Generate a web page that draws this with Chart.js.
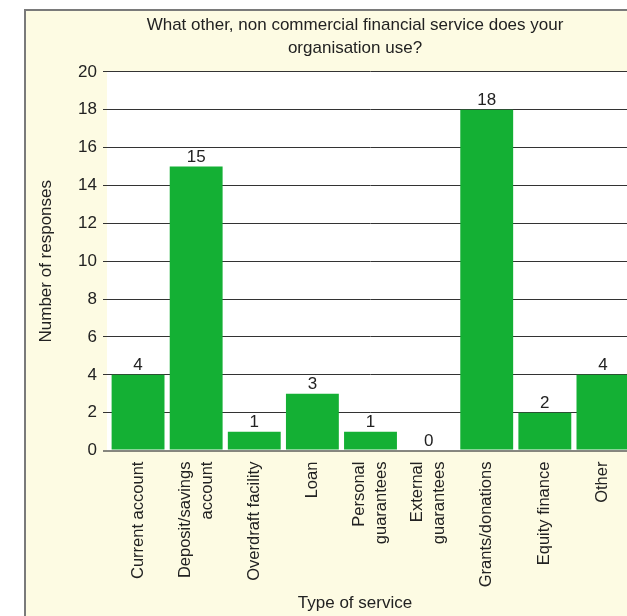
<!DOCTYPE html>
<html>
<head>
<meta charset="utf-8">
<script src="https://cdn.jsdelivr.net/npm/chart.js@4"></script>
<style>
  body { margin: 0; background: #fff; overflow: hidden; }
  #frame {
    position: absolute; left: 24px; top: 9px;
    width: 658px; height: 605px;
    border-left: 2px solid #7a7a7a; border-top: 2px solid #7a7a7a;
    background: #fdfbe3;
  }
</style>
</head>
<body>
<div id="frame"><canvas id="serviceChart"></canvas></div>
<script>
var categories = [
    "Current account",
    ["Deposit/savings", "account"],
    "Overdraft facility",
    "Loan",
    ["Personal", "guarantees"],
    ["External", "guarantees"],
    "Grants/donations",
    "Equity finance",
    "Other"
];
var responses = [4, 15, 1, 3, 1, 0, 18, 2, 4];
var yTicks = [0, 2, 4, 6, 8, 10, 12, 14, 16, 18, 20];

var textColor = "#222";
var fontFamily = "'Liberation Sans', Arial, sans-serif";
Chart.defaults.font.family = fontFamily;
Chart.defaults.font.size = 17;
Chart.defaults.color = textColor;

// white plot area, a bit wider on the left like the original
var plotBackground = {
    id: "plotBackground",
    beforeDraw: function (chart) {
        var a = chart.chartArea, ctx = chart.ctx;
        ctx.save();
        ctx.fillStyle = "#ffffff";
        ctx.fillRect(a.left - 2, a.top, a.right - a.left + 2, a.bottom - a.top);
        ctx.restore();
    }
};

// value above each bar
var barValues = {
    id: "barValues",
    afterDatasetsDraw: function (chart) {
        var ctx = chart.ctx;
        var meta = chart.getDatasetMeta(0);
        ctx.save();
        ctx.font = "17px " + fontFamily;
        ctx.fillStyle = textColor;
        ctx.textAlign = "center";
        ctx.textBaseline = "alphabetic";
        meta.data.forEach(function (bar, i) {
            ctx.fillText(String(responses[i]), bar.x, bar.y - 5);
        });
        ctx.restore();
    }
};

// rotated category labels, multi-line ones centred on the bar
var categoryLabels = {
    id: "categoryLabels",
    afterDraw: function (chart) {
        var ctx = chart.ctx, x = chart.scales.x;
        var lineGap = 22;
        ctx.save();
        ctx.font = "16.5px " + fontFamily;
        ctx.fillStyle = textColor;
        ctx.textAlign = "right";
        ctx.textBaseline = "middle";
        categories.forEach(function (label, i) {
            var lines = Array.isArray(label) ? label : [label];
            var px = x.getPixelForTick(i);
            lines.forEach(function (line, k) {
                ctx.save();
                ctx.translate(px + (k - (lines.length - 1) / 2) * lineGap, chart.chartArea.bottom + 11);
                ctx.rotate(-Math.PI / 2);
                ctx.fillText(line, 0, 0);
                ctx.restore();
            });
        });
        ctx.restore();
    }
};

new Chart(document.querySelector("#serviceChart"), {
    type: "bar",
    data: {
        labels: categories,
        datasets: [{
            label: "Number of responses",
            data: responses,
            backgroundColor: "#14b034",
            borderWidth: 0,
            barPercentage: 0.91,
            categoryPercentage: 1
        }]
    },
    options: {
        responsive: true,
        maintainAspectRatio: false,
        animation: false,
        layout: { padding: 0 },
        plugins: {
            legend: { display: false },
            tooltip: { enabled: false },
            title: {
                display: true,
                text: ["What other, non commercial financial service does your", "organisation use?"],
                color: textColor,
                font: { size: 17, weight: "normal", lineHeight: 1.35 },
                padding: { top: 3, bottom: 12 }
            },
            subtitle: {
                display: true,
                position: "bottom",
                text: "Type of service",
                color: textColor,
                font: { size: 17, weight: "normal" },
                padding: { top: 2, bottom: 2 }
            }
        },
        scales: {
            x: {
                grid: { display: false, drawTicks: false },
                border: { display: false },
                ticks: { display: false },
                afterFit: function (scale) { scale.height = 141; }
            },
            y: {
                z: 1,
                min: 0,
                max: 20,
                afterBuildTicks: function (scale) {
                    scale.ticks = yTicks.map(function (v) { return { value: v }; });
                },
                afterFit: function (scale) { scale.width = 83; },
                border: { display: false },
                grid: {
                    tickLength: 6,
                    color: function (c) { return c.tick && c.tick.value === 0 ? "rgba(70,70,70,0.65)" : "#333"; },
                    lineWidth: function (c) { return c.tick && c.tick.value === 0 ? 2 : 1; }
                },
                ticks: { padding: 6, color: textColor, font: { size: 17 } },
                title: {
                    display: true,
                    text: "Number of responses",
                    color: textColor,
                    font: { size: 17 },
                    padding: { top: 10, bottom: 21 }
                }
            },
            // empty right-hand strip, the frame runs on past the window edge
            yRight: {
                position: "right",
                min: 0,
                max: 20,
                grid: { display: false, drawTicks: false },
                border: { display: false },
                ticks: { display: false },
                afterFit: function (scale) { scale.width = 52; }
            }
        }
    },
    plugins: [plotBackground, barValues, categoryLabels]
});
</script>
</body>
</html>
